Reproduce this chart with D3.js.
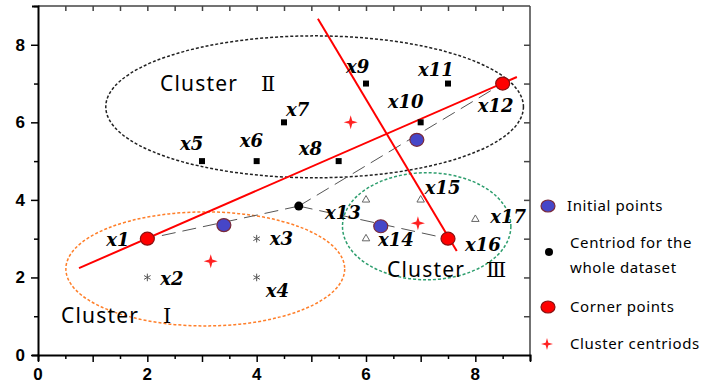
<!DOCTYPE html>
<html>
<head>
<meta charset="utf-8">
<script src="https://cdn.jsdelivr.net/npm/d3@7"></script>
<style>
    body { margin: 0; background: #fff; }
    .tick-label { font-family: "Liberation Sans", Arial, sans-serif; font-weight: bold; font-size: 17px; }
    .pt-label { font-family: "DejaVu Serif", serif; font-style: italic; font-weight: bold; font-size: 18px; }
    .cluster-label { font-family: "Noto Sans", sans-serif; font-size: 21px; letter-spacing: 1.2px; }
    .roman { font-family: "DejaVu Serif", serif; font-size: 21px; }
    .legend-text { font-family: "Noto Sans", sans-serif; font-size: 15px; letter-spacing: 0.6px; }
</style>
</head>
<body>
<svg id="chart" width="711" height="386"></svg>
<script>
// data points x1..x17
var pointNames = ["x1", "x2", "x3", "x4", "x5", "x6", "x7", "x8", "x9", "x10", "x11", "x12", "x13", "x14", "x15", "x16", "x17"];
var pointX = [2, 2, 4, 4, 3, 4, 4.5, 5.5, 6, 7, 7.5, 8.5, 6, 6, 7, 7.5, 8];
var pointY = [3, 2, 3, 2, 5, 5, 6, 5, 7, 6, 7, 7, 4, 3, 4, 3, 3.5];
var pointShape = ["corner", "asterisk", "asterisk", "asterisk", "square", "square", "square", "square", "square", "square", "square", "corner", "triangle", "triangle", "triangle", "corner", "triangle"];

var initialPoints = [[3.4, 3.35], [6.93, 5.55], [6.27, 3.32]];
var datasetCentroid = [4.77, 3.84];
var clusterCentroids = [[3.16, 2.42], [5.72, 6.0], [6.95, 3.4]];

// the two red lines
var redLines = [[[0.75, 2.24], [8.76, 7.17]], [[5.12, 8.67], [7.66, 2.68]]];

// clusters: centre x, centre y, radius x, radius y
var clusterNames = ["Cluster", "Cluster", "Cluster"];
var clusterRoman = ["Ⅰ", "Ⅱ", "Ⅲ"];
var clusterCx = [3.06, 5.06, 7.11];
var clusterCy = [2.22, 6.4, 3.32];
var clusterRx = [2.55, 3.82, 1.54];
var clusterRy = [1.47, 1.83, 1.38];

var legendLabels = [["Initial points"], ["Centriod for the", "whole dataset"], ["Corner points"], ["Cluster centriods"]];

var svg = d3.select("#chart");
var plotLeft = 38, plotRight = 530, plotTop = 6, plotBottom = 355;

var x = d3.scaleLinear().domain([0, 9]).range([plotLeft, plotRight]);
var y = d3.scaleLinear().domain([0, 9]).range([plotBottom, plotTop]);

var ellipseColors = ["#ff7f2a", "#222", "#2e9e6e"];

// ellipses
svg.append("g").selectAll("ellipse")
    .data(clusterCx)
    .enter().append("ellipse")
    .attr("cx", function (d) { return x(d); })
    .attr("cy", function (d, i) { return y(clusterCy[i]); })
    .attr("rx", function (d, i) { return x(clusterRx[i]) - x(0); })
    .attr("ry", function (d, i) { return y(0) - y(clusterRy[i]); })
    .attr("fill", "none")
    .attr("stroke", function (d, i) { return ellipseColors[i]; })
    .attr("stroke-width", 1.5)
    .attr("stroke-dasharray", "3,2");

// dashed lines from whole-dataset centroid to the corner points
var corners = [];
pointShape.forEach(function (s, i) {
    if (s == "corner") corners.push([pointX[i], pointY[i]]);
});
svg.append("g").selectAll("line")
    .data(corners)
    .enter().append("line")
    .attr("x1", x(datasetCentroid[0]))
    .attr("y1", y(datasetCentroid[1]))
    .attr("x2", function (d) { return x(d[0]); })
    .attr("y2", function (d) { return y(d[1]); })
    .attr("stroke", "#555")
    .attr("stroke-width", 1)
    .attr("stroke-dasharray", "14,7");

// red lines
svg.append("g").selectAll("line")
    .data(redLines)
    .enter().append("line")
    .attr("x1", function (d) { return x(d[0][0]); })
    .attr("y1", function (d) { return y(d[0][1]); })
    .attr("x2", function (d) { return x(d[1][0]); })
    .attr("y2", function (d) { return y(d[1][1]); })
    .attr("stroke", "#f00")
    .attr("stroke-width", 2);

// frame and ticks
var frame = svg.append("g");
frame.append("line").attr("x1", plotLeft).attr("x2", plotRight).attr("y1", plotTop).attr("y2", plotTop).attr("stroke", "#444").attr("stroke-width", 1.5);
frame.append("line").attr("x1", plotRight).attr("x2", plotRight).attr("y1", plotTop).attr("y2", plotBottom).attr("stroke", "#444").attr("stroke-width", 1.5);

var xAxis = d3.axisBottom(x).tickValues(d3.range(0, 9.01, 0.5)).tickSize(6).tickFormat("");
var gx = frame.append("g").attr("transform", "translate(0," + plotBottom + ")").call(xAxis);
gx.selectAll(".tick line").attr("y2", function (d) { return d % 1 == 0 ? 7 : 4; }).attr("stroke-width", 1.5);
gx.select(".domain").attr("stroke-width", 2);

var xTop = d3.axisBottom(x).tickValues(d3.range(0.5, 9, 0.5)).tickSize(5).tickFormat("");
var gxt = frame.append("g").attr("transform", "translate(0," + plotTop + ")").call(xTop);
gxt.select(".domain").remove();
gxt.selectAll(".tick line").attr("stroke", "#444").attr("stroke-width", 1.5);

var yAxis = d3.axisLeft(y).tickValues(d3.range(0, 9.01, 1)).tickSize(6).tickFormat("");
var gy = frame.append("g").attr("transform", "translate(" + plotLeft + ",0)").call(yAxis);
gy.selectAll(".tick line").attr("x2", function (d) { return d % 2 == 0 ? -7 : -4; }).attr("stroke-width", 1.5);
gy.select(".domain").attr("stroke-width", 2);

var yRight = d3.axisLeft(y).tickValues(d3.range(1, 9, 1)).tickSize(6).tickFormat("");
var gyr = frame.append("g").attr("transform", "translate(" + plotRight + ",0)").call(yRight);
gyr.select(".domain").remove();
gyr.selectAll(".tick line").attr("stroke", "#444").attr("stroke-width", 1.5);

// tick labels
svg.append("g").selectAll("text")
    .data([0, 2, 4, 6, 8])
    .enter().append("text")
    .attr("class", "tick-label")
    .attr("x", function (d) { return x(d); })
    .attr("y", 380)
    .attr("text-anchor", "middle")
    .text(function (d) { return d; });

svg.append("g").selectAll("text")
    .data([0, 2, 4, 6, 8])
    .enter().append("text")
    .attr("class", "tick-label")
    .attr("x", 25)
    .attr("y", function (d) { return y(d) + 6; })
    .attr("text-anchor", "end")
    .text(function (d) { return d; });

// symbol for the cluster centroids: four pointed star
function star4(cx, cy, r) {
    var p = d3.path(), s = r * 0.22;
    p.moveTo(cx, cy - r);
    p.lineTo(cx + s, cy - s); p.lineTo(cx + r, cy); p.lineTo(cx + s, cy + s);
    p.lineTo(cx, cy + r); p.lineTo(cx - s, cy + s); p.lineTo(cx - r, cy); p.lineTo(cx - s, cy - s);
    p.closePath();
    return p.toString();
}

// points
var pts = svg.append("g");
pointNames.forEach(function (name, i) {
    var px = x(pointX[i]), py = y(pointY[i]), shape = pointShape[i];
    if (shape == "square") {
        pts.append("path").attr("d", d3.symbol(d3.symbolSquare, 36)())
            .attr("transform", "translate(" + px + "," + py + ")").attr("fill", "#000");
    } else if (shape == "asterisk") {
        pts.append("path").attr("d", d3.symbol(d3.symbolAsterisk, 40)())
            .attr("transform", "translate(" + px + "," + py + ")").attr("fill", "none").attr("stroke", "#555").attr("stroke-width", 1);
    } else if (shape == "triangle") {
        pts.append("path").attr("d", d3.symbol(d3.symbolTriangle2, 40)())
            .attr("transform", "translate(" + px + "," + py + ")").attr("fill", "none").attr("stroke", "#666").attr("stroke-width", 1);
    }
});

svg.append("g").selectAll("path")
    .data(clusterCentroids)
    .enter().append("path")
    .attr("d", function (d) { return star4(x(d[0]), y(d[1]), 7); })
    .attr("fill", "#f22");

svg.append("circle")
    .attr("cx", x(datasetCentroid[0]))
    .attr("cy", y(datasetCentroid[1]))
    .attr("r", 4.5)
    .attr("fill", "#000");

svg.append("g").selectAll("ellipse")
    .data(initialPoints)
    .enter().append("ellipse")
    .attr("cx", function (d) { return x(d[0]); })
    .attr("cy", function (d) { return y(d[1]); })
    .attr("rx", 7).attr("ry", 6.5)
    .attr("fill", "#4646c8")
    .attr("stroke", "#7a2a3a")
    .attr("stroke-width", 1.2);

svg.append("g").selectAll("ellipse")
    .data(corners)
    .enter().append("ellipse")
    .attr("cx", function (d) { return x(d[0]); })
    .attr("cy", function (d) { return y(d[1]); })
    .attr("rx", 7).attr("ry", 6.5)
    .attr("fill", "#f00")
    .attr("stroke", "#8a1010")
    .attr("stroke-width", 1.2);

// point labels, offsets in pixels from each point
var labelOffset = {
    x1: [-41, 7], x2: [13, 8], x3: [13, 6], x4: [9, 20], x5: [-22, -11], x6: [-17, -14],
    x7: [2, -6], x8: [-40, -6], x9: [-20, -11], x10: [-33, -14], x11: [-30, -8], x12: [-25, 28],
    x13: [-41, 19], x14: [12, 7], x15: [4, -6], x16: [17, 12], x17: [15, 4]
};
svg.append("g").selectAll("text")
    .data(pointNames)
    .enter().append("text")
    .attr("class", "pt-label")
    .attr("x", function (d, i) { return x(pointX[i]) + labelOffset[d][0]; })
    .attr("y", function (d, i) { return y(pointY[i]) + labelOffset[d][1]; })
    .text(function (d) { return d; });

// cluster labels
var clusterLabelPos = [[61, 323, 163], [160, 91, 261], [387, 277, 486]];
clusterNames.forEach(function (name, i) {
    var pos = clusterLabelPos[i];
    svg.append("text").attr("class", "cluster-label").attr("x", pos[0]).attr("y", pos[1]).text(name);
    svg.append("text").attr("class", "roman").attr("x", pos[2]).attr("y", pos[1]).text(clusterRoman[i]);
});

// legend
var legend = svg.append("g");
var legendY = [206, 252, 307, 344];
legend.append("ellipse").attr("cx", 548).attr("cy", legendY[0]).attr("rx", 7).attr("ry", 6)
    .attr("fill", "#4646c8").attr("stroke", "#7a2a3a").attr("stroke-width", 1.2);
legend.append("circle").attr("cx", 549).attr("cy", legendY[1]).attr("r", 4).attr("fill", "#000");
legend.append("ellipse").attr("cx", 548).attr("cy", legendY[2]).attr("rx", 7).attr("ry", 6)
    .attr("fill", "#f00").attr("stroke", "#8a1010").attr("stroke-width", 1.2);
legend.append("path").attr("d", star4(547, legendY[3], 6)).attr("fill", "#f22");

legendLabels.forEach(function (lines, i) {
    var t = legend.append("text").attr("class", "legend-text").attr("x", i == 0 ? 567 : 570);
    if (lines.length == 1) {
        t.attr("y", legendY[i] + 5).text(lines[0]);
    } else {
        t.attr("y", legendY[i] - 4);
        t.append("tspan").attr("x", 570).text(lines[0]);
        t.append("tspan").attr("x", 570).attr("dy", 25).text(lines[1]);
    }
});
</script>
</body>
</html>
